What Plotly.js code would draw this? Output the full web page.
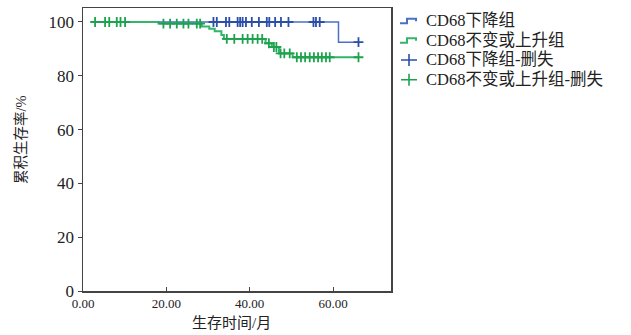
<!DOCTYPE html>
<html>
<head>
<meta charset="utf-8">
<script src="https://cdn.plot.ly/plotly-3.0.1.min.js"></script>
<style>html,body{margin:0;padding:0;background:#fff;}#chart{width:631px;height:335px;}</style>
</head>
<body>
<div id="chart"></div>
<script>
// Group names
const groupNames = ["CD68下降组", "CD68不变或上升组"];
const censorSuffix = "-删失";

// Kaplan-Meier step curves (time in months, cumulative survival %)
const downTimes = [18.1, 61.3, 66.1];
const downSurv  = [100, 92.5, 92.5];
const upTimes = [2.9, 18.1, 28.5, 30.3, 31.6, 33.2, 33.8, 43.8, 45.3, 47.0, 50.3, 66.1];
const upSurv  = [100, 99.4, 98.3, 97.5, 96.6, 95.2, 93.7, 92.1, 90.7, 88.3, 86.9, 86.9];

// Censored observation times
const downCensor = [31.3, 32.1, 34.3, 35.1, 37.1, 37.7, 38.3, 39.1, 40.5, 42.2, 44.1, 44.7, 46.1, 47.5, 49.3, 55.3, 55.9, 56.8, 66.1];
const upCensor = [2.9, 5.3, 6.3, 8.1, 9.0, 10.1, 19.3, 20.9, 22.5, 24.1, 25.3, 27.3, 28.1,
                  34.5, 36.3, 38.3, 39.5, 40.7, 41.9, 43.0, 44.6, 45.8, 46.4, 47.4, 48.3, 49.6,
                  51.3, 52.3, 53.3, 54.4, 55.4, 56.4, 57.3, 58.3, 59.2, 66.1];

// Axis ticks
const xTicks = [0, 20, 40, 60];
const xTickLabels = ["0.00", "20.00", "40.00", "60.00"];
const yTicks = [0, 20, 40, 60, 80, 100];
const xTitle = "生存时间/月";
const yTitle = "累积生存率/%";

function survAt(times, surv, t) {
  let s = surv[0];
  for (let i = 0; i < times.length; i++) { if (times[i] <= t) s = surv[i]; }
  return s;
}

const blueLine = "#4a72c4", blueMark = "#2b4fa8";
const greenLine = "#35b56a", greenMark = "#1ea24e";
const font = "'Liberation Serif', 'Noto Sans CJK SC', serif";

// layout geometry (pixels)
const W = 631, H = 335, ML = 83, MR = 240, MT = 8, MB = 44;
const PW = W - ML - MR, PH = H - MT - MB;
const px = v => (v - ML) / PW;
const py = v => (H - MB - v) / PH;

const data = [
  {x: upTimes, y: upSurv, mode: "lines", line: {shape: "hv", color: greenLine, width: 2}, name: groupNames[1]},
  {x: downTimes, y: downSurv, mode: "lines", line: {shape: "hv", color: blueLine, width: 1.5}, name: groupNames[0]},
  {x: upCensor, y: upCensor.map(t => survAt(upTimes, upSurv, t)), mode: "markers",
   marker: {symbol: "cross-thin", size: 7, line: {color: greenMark, width: 1.8}, color: greenMark},
   name: groupNames[1] + censorSuffix},
  {x: downCensor, y: downCensor.map(t => survAt(downTimes, downSurv, t)), mode: "markers",
   marker: {symbol: "cross-thin", size: 7, line: {color: blueMark, width: 1.8}, color: blueMark},
   name: groupNames[0] + censorSuffix}
];

// custom legend
const legendItems = [
  {text: groupNames[0], color: blueLine, kind: "step"},
  {text: groupNames[1], color: greenLine, kind: "step"},
  {text: groupNames[0] + censorSuffix, color: blueMark, kind: "cross"},
  {text: groupNames[1] + censorSuffix, color: greenMark, kind: "cross"}
];
const rowY = [20.8, 40.3, 60.0, 79.8];
const shapes = [], annotations = [];
legendItems.forEach((it, i) => {
  const c = rowY[i];
  let path;
  if (it.kind === "step") {
    path = `M${px(400)},${py(c + 2.5)} L${px(407)},${py(c + 2.5)} L${px(407)},${py(c - 2)} L${px(416)},${py(c - 2)} L${px(416)},${py(c + 0.5)}`;
  } else {
    path = `M${px(401)},${py(c)} L${px(417)},${py(c)} M${px(409)},${py(c - 6)} L${px(409)},${py(c + 6)}`;
  }
  shapes.push({type: "path", xref: "paper", yref: "paper", path: path,
               line: {color: it.color, width: it.kind === "step" ? 2 : 1.6}});
  annotations.push({xref: "paper", yref: "paper", x: px(424), y: py(c), xanchor: "left", yanchor: "middle",
                    text: it.text, showarrow: false, font: {family: font, size: 16.5, color: "#222"}});
});
annotations.push({xref: "paper", yref: "paper", x: px(21), y: py(140), xanchor: "center", yanchor: "middle",
                  textangle: -90, text: yTitle, showarrow: false, font: {family: font, size: 14.5, color: "#222"}});
annotations.push({xref: "paper", yref: "paper", x: px(231), y: py(323), xanchor: "center", yanchor: "middle",
                  text: xTitle, showarrow: false, font: {family: font, size: 15, color: "#222"}});

const layout = {
  width: W, height: H,
  margin: {l: ML, r: MR, t: MT, b: MB},
  paper_bgcolor: "#fff", plot_bgcolor: "#fff",
  font: {family: font, color: "#222", size: 14},
  showlegend: false,
  shapes: shapes, annotations: annotations,
  xaxis: {range: [0, 73.9], tickvals: xTicks, ticktext: xTickLabels, ticks: "inside", ticklen: 4,
          tickcolor: "#444", showgrid: false, zeroline: false, showline: true, linecolor: "#444",
          linewidth: 1.5, mirror: true, tickfont: {size: 13, family: font}},
  yaxis: {range: [0, 105.2], tickvals: yTicks, ticks: "outside", ticklen: 4, tickcolor: "#444",
          showgrid: false, zeroline: false, showline: true, linecolor: "#444", linewidth: 1.5, mirror: true,
          tickfont: {size: 17, family: font}}
};

Plotly.newPlot("chart", data, layout, {displayModeBar: false, staticPlot: true});
</script>
</body>
</html>
